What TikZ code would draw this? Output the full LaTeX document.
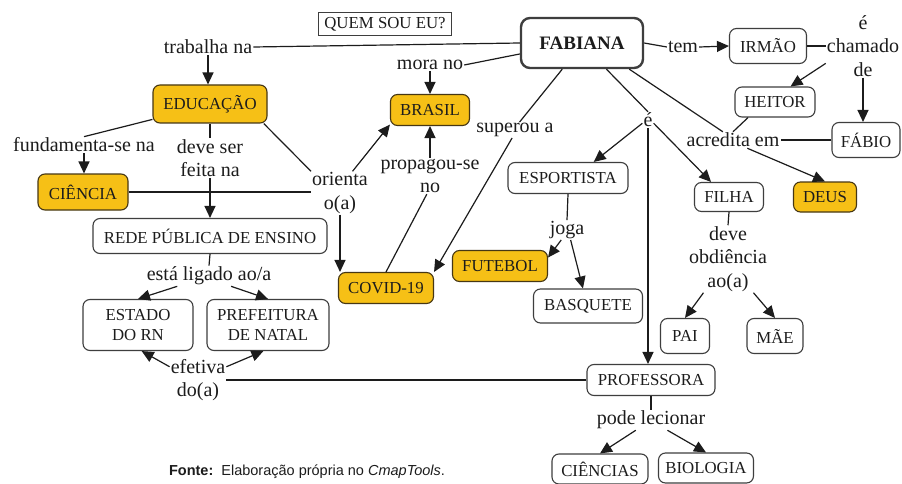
\documentclass[tikz,border=0pt]{standalone}
\usepackage{fontspec}
\setmainfont{Liberation Serif}
\newfontfamily\capfont{Liberation Sans}
\usetikzlibrary{arrows.meta,calc}
\definecolor{gold}{RGB}{246,192,22}
\definecolor{ink}{RGB}{28,28,28}
\definecolor{goldline}{RGB}{70,55,20}
\tikzset{
  concept/.style={draw=ink!85, line width=1.1pt, rounded corners=7pt, fill=white,
    font=\fontsize{16.8}{20}\selectfont, text=ink, align=center, inner sep=2pt},
  goldbox/.style={concept, fill=gold, draw=goldline},
  sz/.style 2 args={minimum width=#1pt, minimum height=#2pt},
  lnk/.style={font=\rmfamily\fontsize{20}{23.5}\selectfont, align=center, inner sep=1pt, text=ink},
  con/.style={line width=1.2pt, draw=ink},
  arr/.style={con, -{Triangle[length=12pt,width=11pt]}}
}
\begin{document}
\begin{tikzpicture}[x=1pt,y=-1pt]
\fill[white] (0,0) rectangle (902,484);
\useasboundingbox (0,0) rectangle (902,484);

% concepts
\node[concept, sz={133}{23}, rounded corners=0pt, line width=0.8pt] (qs) at (385,24) {QUEM SOU EU?};
\node[concept, sz={122}{50}, line width=2.4pt, rounded corners=9pt, font=\bfseries\fontsize{19}{22}\selectfont] (fab) at (582,43) {FABIANA};
\node[concept, sz={77}{35}] (irmao) at (768,46) {IRMÃO};
\node[concept, sz={80}{30}] (heitor) at (775,102) {HEITOR};
\node[concept, sz={68}{35}] (fabio) at (866,140) {FÁBIO};
\node[goldbox, sz={63}{30}] (deus) at (825,197) {DEUS};
\node[concept, sz={69}{29}] (filha) at (729,197) {FILHA};
\node[concept, sz={120}{31}] (esp) at (568,178) {ESPORTISTA};
\node[goldbox, sz={95}{31}] (fut) at (500,266) {FUTEBOL};
\node[concept, sz={109}{34}] (bas) at (588,306) {BASQUETE};
\node[goldbox, sz={95}{31}] (covid) at (386,288) {COVID-19};
\node[goldbox, sz={79}{31}] (brasil) at (430,110) {BRASIL};
\node[goldbox, sz={114}{38}] (edu) at (210,104) {EDUCAÇÃO};
\node[goldbox, sz={90}{36}] (cie) at (83,192) {CIÊNCIA};
\node[concept, sz={234}{35}] (rede) at (210,236) {REDE PÚBLICA DE ENSINO};
\node[concept, sz={110}{51}] (estado) at (138,325) {ESTADO\\DO RN};
\node[concept, sz={122}{51}] (pref) at (268,325) {PREFEITURA\\DE NATAL};
\node[concept, sz={128}{31}] (prof) at (651,380) {PROFESSORA};
\node[concept, sz={96}{30}] (cie2) at (600,469) {CIÊNCIAS};
\node[concept, sz={95}{30}] (bio) at (706,468) {BIOLOGIA};
\node[concept, sz={49}{35}] (pai) at (685,336) {PAI};
\node[concept, sz={56}{35}] (mae) at (775,336) {MÃE};

% linking phrases
\node[lnk] (trab) at (208,47) {trabalha na};
\node[lnk] (tem) at (683,47) {tem};
\node[lnk] (cham) at (863,46) {é\\chamado\\de};
\node[lnk] (acr) at (733,140) {acredita em};
\node[lnk] (e) at (648,120) {é};
\node[lnk] (joga) at (567,230) {joga};
\node[lnk] (sup) at (515,130) {superou a};
\node[lnk] (mora) at (430,65) {mora no};
\node[lnk] (prop) at (430,176) {propagou-se\\no};
\node[lnk] (ori) at (340,193) {orienta\\o(a)};
\node[lnk] (fund) at (84,145) {fundamenta-se na};
\node[lnk] (deve) at (210,158) {deve ser\\feita na};
\node[lnk] (lig) at (209,276) {está ligado ao/a};
\node[lnk] (efe) at (198,380) {efetiva\\do(a)};
\node[lnk] (pode) at (651,420) {pode lecionar};
\node[lnk] (obd) at (728,259) {deve\\obdiência\\ao(a)};

\node[font=\capfont\fontsize{14.5}{16}\selectfont, text=ink, inner sep=0pt] (src) at (307,472)
  {\textbf{Fonte:}\ \ Elaboração própria no \textit{CmapTools}.};

% connectors
\draw[con] (fab.west) -- (trab.east);
\draw[arr] (trab.south) -- (trab.south |- edu.north);
\draw[con] (edu.195) -- (fund.north);
\draw[arr] (fund.south) -- (fund.south |- cie.north);
\draw[con] (edu.south) -- (deve.north);
\draw[arr] (deve.south) -- (deve.south |- rede.north);
\draw[con] (edu.-20) -- (ori.north west);
\draw[arr] (ori.60) -- (brasil.200);
\draw[con] (cie.east) -- (cie.east -| ori.west);
\draw[arr] (ori.south) -- (ori.south |- covid.north);
\draw[con] (fab.190) -- (mora.east);
\draw[arr] (mora.south) -- (mora.south |- brasil.north);
\draw[con] (covid.north) -- (prop.-100);
\draw[arr] (prop.north) -- (prop.north |- brasil.south);
\draw[con] (fab.-127) -- (sup.60);
\draw[arr] (sup.-110) -- (covid.north east);
\draw[con] (fab.east) -- (tem.west);
\draw[arr] (tem.east) -- (irmao.west);
\draw[con] (irmao.east) -- (cham.west);
\draw[arr] (cham.205) -- (heitor.45);
\draw[arr] (cham.south) -- (cham.south |- fabio.north);
\draw[con] (fabio.west) -- (acr.east);
\draw[con] (heitor.-150) -- (acr.north);
\draw[con] (fab.-29) -- (acr.141);
\draw[arr] (acr.-30) -- (deus.north);
\draw[con] (fab.-47) -- (e.north);
\draw[arr] (e.-150) -- (esp.32);
\draw[arr] (e.-30) -- (filha.140);
\draw[arr] (e.south) -- (e.south |- prof.north);
\draw[con] (esp.south) -- (joga.north);
\draw[arr] (joga.-120) -- (fut.10);
\draw[arr] (joga.-70) -- (bas.106);
\draw[con] (filha.south) -- (obd.north);
\draw[arr] (obd.-126) -- (pai.north);
\draw[arr] (obd.-53) -- (mae.north);
\draw[con] (prof.south) -- (pode.north);
\draw[arr] (pode.-146) -- (cie2.north);
\draw[arr] (pode.-32) -- (bio.north);
\draw[con] (prof.west) -- (prof.west -| efe.east);
\draw[arr] (efe.155) -- (estado.-82);
\draw[arr] (efe.25) -- (pref.-100);
\draw[con] (rede.south) -- (lig.north);
\draw[arr] (lig.-162) -- (estado.north);
\draw[arr] (lig.-25) -- (pref.north);
\end{tikzpicture}
\end{document}
